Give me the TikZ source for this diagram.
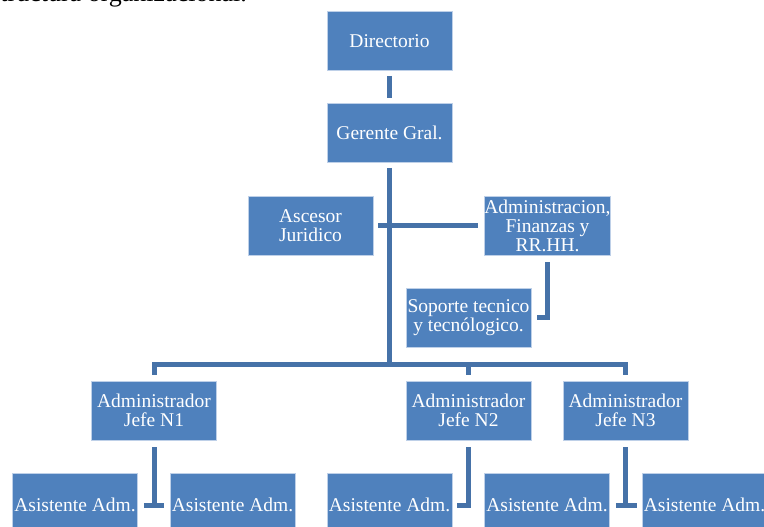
\documentclass[tikz,border=0pt]{standalone}
\usepackage{fontspec}
\setmainfont{Liberation Serif}
\definecolor{boxblue}{RGB}{79,129,189}
\definecolor{linkblue}{RGB}{70,114,168}
\definecolor{edgecol}{RGB}{190,208,232}
\begin{document}
\begin{tikzpicture}[x=1pt,y=-1pt,
  box/.style={rectangle, fill=boxblue, draw=edgecol, line width=0.8pt, text=white,
    align=center, minimum width=125pt, minimum height=59pt, inner sep=0pt,
    font=\fontsize{19.5}{19}\selectfont},
  lowbox/.style={box, minimum height=64pt},
  conn/.style={draw=linkblue, line width=5pt}]
\useasboundingbox (0,0) rectangle (764,527);
\node[anchor=base east, inner sep=0, font=\fontsize{26}{28}\selectfont] (title) at (247,2) {Estructura organizacional.};
% boxes
\node[box] (dir) at (389.5,41) {Directorio};
\node[box] (ger) at (389.5,133) {Gerente Gral.};
\node[box] (asc) at (310.5,225.5) {Ascesor\\Juridico};
\node[box] (adm) at (547.5,225.5) {Administracion,\\Finanzas y\\RR.HH.};
\node[box] (sop) at (468.5,317.5) {Soporte tecnico\\y tecnólogico.};
\node[box] (j1) at (154,410.5) {Administrador\\Jefe N1};
\node[box] (j2) at (468.5,410.5) {Administrador\\Jefe N2};
\node[box] (j3) at (625.5,410.5) {Administrador\\Jefe N3};
\node[lowbox] (a1) at (75,505) {Asistente Adm.};
\node[lowbox] (a2) at (232.5,505) {Asistente Adm.};
\node[lowbox] (a3) at (389.5,505) {Asistente Adm.};
\node[lowbox] (a4) at (547,505) {Asistente Adm.};
\node[lowbox] (a5) at (704.5,505) {Asistente Adm.};
\coordinate (bar) at (390,364);
% connectors
\draw[conn, shorten <=5pt, shorten >=5pt] (dir.south) -- (ger.north);
\draw[conn, shorten <=5pt] (ger.south) -- (ger.south |- bar);
\draw[conn, shorten <=5pt, shorten >=6pt] (asc.east) -- (adm.west);
\draw[conn, shorten <=7pt, shorten >=6pt] (adm.south) -- (adm.south |- sop.east) -- (sop.east);
\draw[conn, shorten <=6pt, shorten >=6pt] (j1.north) -- (j1.north |- bar) -- (j3.north |- bar) -- (j3.north);
\draw[conn, shorten >=6pt] (j2.north |- bar) -- (j2.north);
\draw[conn, shorten <=7pt] (j1.south) -- (j1.south |- a1.east);
\draw[conn, shorten <=6pt, shorten >=6pt] (a1.east) -- (a2.west);
\draw[conn, shorten <=7pt, shorten >=5pt] (j2.south) -- (j2.south |- a3.east) -- (a3.east);
\draw[conn, shorten <=7pt] (j3.south) -- (j3.south |- a4.east);
\draw[conn, shorten <=6pt, shorten >=5pt] (a4.east) -- (a5.west);
\end{tikzpicture}
\end{document}
